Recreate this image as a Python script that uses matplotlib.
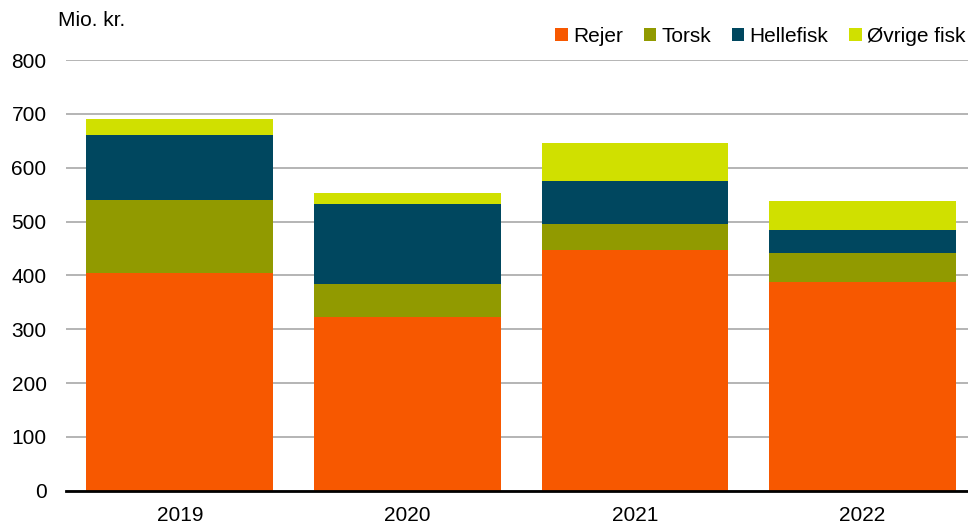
import numpy as np
import matplotlib.pyplot as plt

plt.rcParams['font.family'] = ['Liberation Sans', 'DejaVu Sans']

# Data (mio. kr.)
years = ['2019', '2020', '2021', '2022']
rejer = [404, 323, 447, 388]
torsk = [136, 61, 48, 54]
hellefisk = [121, 149, 81, 43]
oevrige = [29, 20, 69, 53]

series = ['Rejer', 'Torsk', 'Hellefisk', 'Øvrige fisk']
colors = ['#F75800', '#919A00', '#00475F', '#D0E000']

fig = plt.figure(figsize=(9.68, 5.24), dpi=100)
ax = fig.add_axes([66 / 968, 1 - 490.7 / 524, 1 - 66 / 968, (490.7 - 60) / 524])

x = np.arange(len(years))
bottom = np.zeros(len(years))
for name, vals, col in zip(series, [rejer, torsk, hellefisk, oevrige], colors):
    ax.bar(x, vals, width=0.82, bottom=bottom, color=col, label=name, zorder=3)
    bottom += np.array(vals)

ax.set_ylim(0, 800)
ax.set_xlim(-0.5, 3.463)
ax.set_yticks(range(0, 801, 100))
ax.set_xticks(x)
ax.set_xticklabels(years)
ax.yaxis.grid(True, color='#a0a0a0', linewidth=1.1, zorder=0)
ax.tick_params(axis='both', length=0, labelsize=15, colors='#000000')
ax.tick_params(axis='y', pad=14)
ax.tick_params(axis='x', pad=11)
for s in ['top', 'right', 'left']:
    ax.spines[s].set_visible(False)
ax.spines['bottom'].set_linewidth(2)
ax.spines['bottom'].set_color('black')
ax.spines['bottom'].set_zorder(4)

fig.text(58 / 968, 1 - 21 / 524, 'Mio. kr.', fontsize=15, va='center', ha='left')

fig.legend(loc='center right', bbox_to_anchor=(1.006, 1 - 36 / 524), ncol=4,
           frameon=False, fontsize=15, handlelength=0.6, handleheight=0.6,
           handletextpad=0.25, columnspacing=1.0, borderaxespad=0)

fig.savefig('out.png', dpi=100)
